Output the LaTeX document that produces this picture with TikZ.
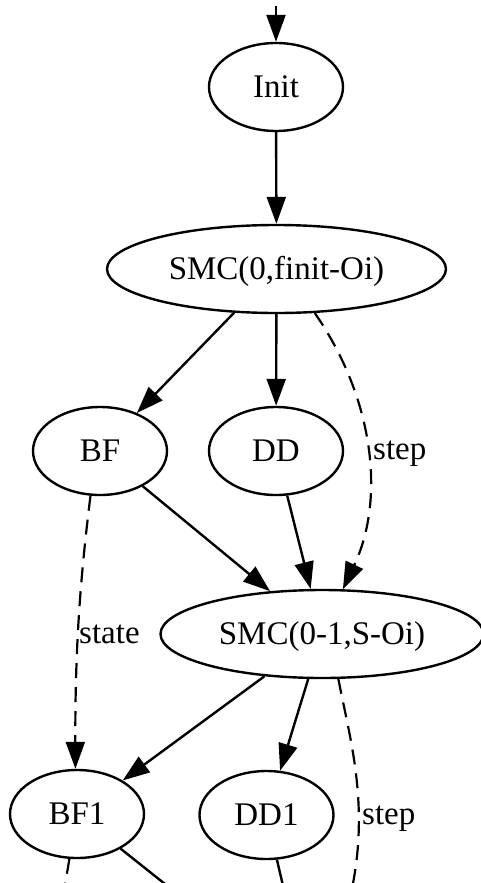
\documentclass[tikz,border=0pt]{standalone}
\usepackage{fontspec}
\setmainfont{Liberation Serif}
\usetikzlibrary{shapes.geometric,arrows.meta}

\begin{document}
\begin{tikzpicture}[x=1pt,y=-1pt,outer sep=1.2pt,font=\fontsize{33}{40}\selectfont,
    >={Triangle[length=27pt,width=19pt]}]
\tikzstyle{ell}=[draw, ellipse, line width=2.4pt, inner sep=0pt, text centered,
    text height=20pt, text depth=0pt, minimum height=88pt, minimum width=134pt]
\tikzstyle{link}=[->, line width=2.4pt]
\tikzstyle{dlink}=[->, line width=2.2pt, dash pattern=on 15pt off 9pt]
\tikzstyle{lbl}=[inner sep=1pt, anchor=west]
    \useasboundingbox (0,0) rectangle (481,883);
    \clip (0,0) rectangle (481,883);
    \fill[white] (0,0) rectangle (481,883);
    \node (init) [ell] at (276,87) {Init};
    \node (smc0) [ell,minimum width=339pt] at (276.5,269) {SMC(0,finit-Oi)};
    \node (bf) [ell] at (100,451) {BF};
    \node (dd) [ell] at (276,451) {DD};
    \node (smc1) [ell,minimum width=323pt] at (322,634) {SMC(0-1,S-Oi)};
    \node (bf1) [ell] at (77,814) {BF1};
    \node (dd1) [ell] at (266.5,815) {DD1};
    \coordinate (entry) at (276,6);
    \coordinate (out0) at (54,950);
    \coordinate (out1) at (248,950);
    \coordinate (out2) at (298,950);
    \coordinate (out3) at (342,930);
    \draw[link] (entry) -- (init);
    \draw[link] (init) -- (smc0);
    \draw[link] (smc0) -- (bf);
    \draw[link] (smc0) -- (dd);
    \draw[link] (bf) -- (smc1);
    \draw[link] (dd) -- (smc1);
    \draw[dlink] (smc0.-49) .. controls (375,400) and (385,500) .. (smc1.65);
    \draw[dlink] (bf.-102) .. controls (80,580) and (75,650) .. (bf1.92);
    \draw[link] (smc1) -- (bf1);
    \draw[link] (smc1) -- (dd1);
    \draw[dlink] (smc1.-70) .. controls (350,740) and (372,810) .. (out3);
    \draw[dlink] (bf1) -- (out0);
    \draw[link] (bf1) -- (out1);
    \draw[link] (dd1) -- (out2);
    \node (lstep0) [lbl] at (371,454) {step};
    \node (lstate) [lbl] at (77,634) {state};
    \node (lstep1) [lbl] at (360,819) {step};
\end{tikzpicture}
\end{document}
